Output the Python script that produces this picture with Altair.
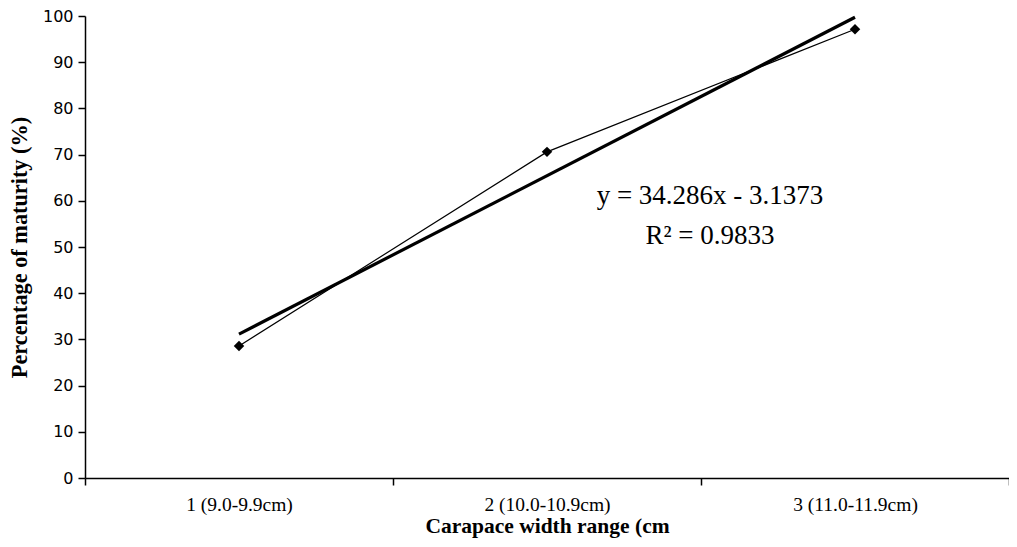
import altair as alt
import pandas as pd

categories = ["1 (9.0-9.9cm)", "2 (10.0-10.9cm)", "3 (11.0-11.9cm)"]
maturity = [28.57, 70.59, 97.14]
trend_cats = ["1 (9.0-9.9cm)", "3 (11.0-11.9cm)"]
trend_vals = [31.15, 99.72]
eq_lines = ["y = 34.286x - 3.1373", "R² = 0.9833"]
eq_y = [61.0, 52.4]

df = pd.DataFrame({"cat": categories, "val": maturity})
tdf = pd.DataFrame({"cat": trend_cats, "val": trend_vals})
edf = pd.DataFrame({"txt": eq_lines, "val": eq_y})

xscale = alt.Scale(type="band", domain=categories, paddingInner=0, paddingOuter=0)
yscale = alt.Scale(domain=[0, 100])

xaxis = alt.Axis(title="Carapace width range (cm", tickBand="extent", labelAngle=0,
                 labelAlign="center", labelBaseline="top",
                 labelFont="Liberation Serif", labelFontSize=19.5, labelColor="black",
                 titleFont="Liberation Serif", titleFontSize=21.5, titleFontWeight="bold",
                 titleColor="black", titlePadding=2, labelPadding=10,
                 domainColor="black", tickColor="black", tickSize=7, grid=False)
yaxis = alt.Axis(title="Percentage of maturity (%)", values=list(range(0, 101, 10)),
                 labelFont="DejaVu Sans", labelFontSize=16, labelColor="black",
                 titleFont="Liberation Serif", titleFontSize=22.3, titleFontWeight="bold",
                 titleColor="black", titlePadding=11, labelPadding=5,
                 domainColor="black", tickColor="black", tickSize=7, grid=False)

line = alt.Chart(df).mark_line(color="black", strokeWidth=1.2).encode(
    x=alt.X("cat:N", scale=xscale, axis=xaxis, sort=categories),
    y=alt.Y("val:Q", scale=yscale, axis=yaxis),
)
pts = alt.Chart(df).mark_point(shape="diamond", filled=True, color="black", size=110, opacity=1).encode(
    x=alt.X("cat:N", scale=xscale, sort=categories),
    y=alt.Y("val:Q", scale=yscale),
)
trend = alt.Chart(tdf).mark_line(color="black", strokeWidth=3.2).encode(
    x=alt.X("cat:N", scale=xscale, sort=categories),
    y=alt.Y("val:Q", scale=yscale),
)
eq = alt.Chart(edf).mark_text(font="Liberation Serif", fontSize=27, color="black", align="center").encode(
    x=alt.value(625),
    y=alt.Y("val:Q", scale=yscale),
    text="txt:N",
)

chart = alt.layer(trend, line, pts, eq).properties(
    width=924, height=462,
    autosize=alt.AutoSizeParams(type="none"),
    padding={"left": 77, "top": 8, "right": 0, "bottom": 61},
).configure_view(stroke=None).configure_axis(domainWidth=1.5, tickWidth=1.5)

chart.save("out.html", embed_options={"renderer": "svg", "actions": False})
